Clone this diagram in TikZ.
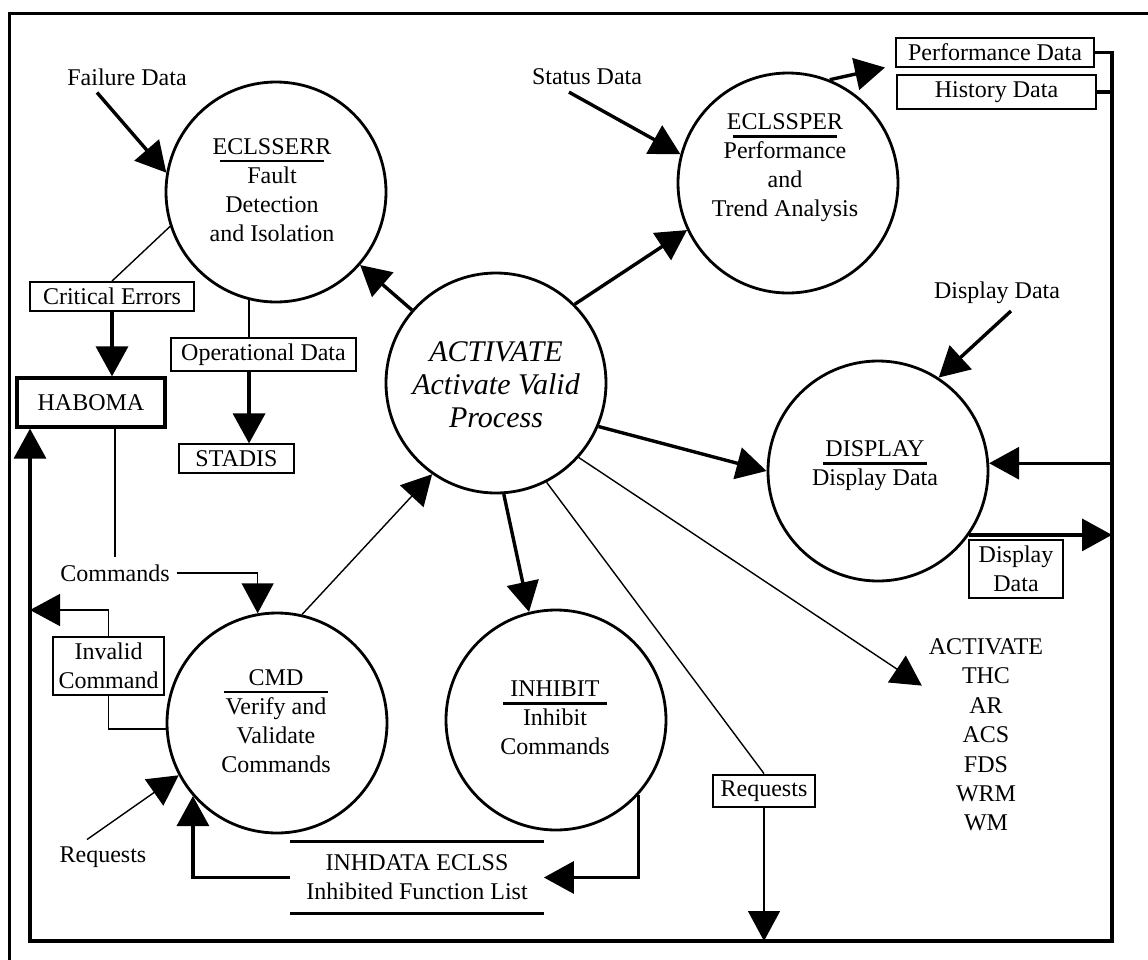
\documentclass[tikz,border=0pt]{standalone}
\usepackage{fontspec}
\setmainfont{Liberation Serif}
\usetikzlibrary{arrows.meta}

\newcommand{\ttl}[1]{\leavevmode\vtop{\hbox to 52pt{\hss#1\hss}\kern2.5pt\hrule height 1.4pt}}

\begin{document}
\begin{tikzpicture}[x=0.5pt,y=-0.5pt,
	every node/.style={font=\fontsize{12}{14.5}\selectfont, align=center},
	proc/.style={circle, draw, line width=1.4pt, minimum size=110pt, inner sep=0pt},
	box/.style={draw, line width=1pt, inner xsep=5pt, inner ysep=3pt},
	fat/.style={line width=1.7pt},
	lean/.style={line width=0.7pt},
	big/.style={-{Triangle[length=15pt,width=16pt]}}]
			\useasboundingbox (0,0) rectangle (1148,960);
			\draw[line width=1.5pt] (9,960) -- (9,13) -- (1148,13);

			\node[proc] (err) at (276,192) {};
			\node[proc] (per) at (788,183) {};
			\node[proc] (act) at (496,383) {};
			\node[proc] (disp) at (878,471) {};
			\node[proc] (cmd) at (277,723) {};
			\node[proc] (inh) at (556,720) {};

			\node at (272,190) {\ttl{ECLSSERR}\\Fault\\Detection\\and Isolation};
			\node at (785,168) {\ttl{ECLSSPER}\\Performance\\and\\Trend Analysis};
			\node[font=\fontsize{15}{16.5}\selectfont\itshape] at (496,385) {ACTIVATE\\Activate Valid\\Process};
			\node at (875,466) {\ttl{DISPLAY}\\Display Data};
			\node at (276,721) {\ttl{CMD}\\Verify and\\Validate\\Commands};
			\node at (555,718) {\ttl{INHIBIT}\\Inhibit\\Commands};

			\node (fail) at (127,77) {Failure Data};
			\node (stat) at (587,77) {Status Data};
			\node (dd) at (997,293) {Display Data};
			\node (cmds) at (115,573) {Commands};
			\node (req) at (103,857) {Requests};
			\node[font=\fontsize{12}{14.7}\selectfont] (list) at (986,735) {ACTIVATE\\THC\\AR\\ACS\\FDS\\WRM\\WM};

			\node[box, inner xsep=6.5pt] (crit) at (112,296.5) {Critical Errors};
			\node[box, line width=1.6pt, minimum width=74pt, minimum height=24.5pt] (hab) at (91,402.5) {HABOMA};
			\node[box] (opd) at (263.5,354.5) {Operational Data};
			\node[box, minimum width=57.5pt] (stadis) at (236.5,458.5) {STADIS};
			\node[box, minimum width=99pt] (perf) at (995,52.5) {Performance Data};
			\node[box, minimum width=99.5pt] (hist) at (996.5,92) {History Data};
			\node[box, minimum width=46pt] (ddb) at (1016,569) {Display\\Data};
			\node[box, inner xsep=3pt] (inv) at (108.5,666) {Invalid\\Command};
			\node[box, inner xsep=4pt] (reqb) at (764,791) {Requests};
			\node[minimum width=126.5pt, minimum height=35.5pt] (store) at (417,877.5) {INHDATA ECLSS\\Inhibited Function List};
			\draw[line width=1.2pt] (store.north west) -- (store.north east);
			\draw[line width=1.2pt] (store.south west) -- (store.south east);

			\coordinate (se) at (1112,941);
			\coordinate (sw) at (30,941);
			\coordinate (ia) at (30,610);

			\draw[fat,big] ([xshift=-15pt]fail.south) -- (err.170);
			\draw[fat,big] ([xshift=-9pt]stat.south) -- (per.165);
			\draw[fat,big] (act) -- (err);
			\draw[fat,big] (act.45) -- (per.205);
			\draw[fat,big] (per.68) -- ([shift={(-5pt,-7.5pt)}]perf.west);
			\draw[fat,big] ([xshift=7pt]dd.south) -- (disp.57);
			\draw[fat,big] (act.-23) -- (disp.180);
			\draw[fat,big] (disp.4 -| se) -- (disp.4);
			\draw[fat,big] (disp.-35) -- (disp.-35 -| se);
			\draw[fat,big] (perf.east) -| (se) -- (sw) -- (sw |- hab.south);
			\draw[fat] (hist.east) -- (hist.east -| se);

			\draw[lean] (err.198) -- (crit.north);
			\draw[fat,big] (crit.south) -- (crit.south |- hab.north);
			\draw[lean] (err.-104) -- (err.-104 |- opd.north);
			\draw[fat,big] (err.-104 |- opd.south) -- (err.-104 |- stadis.north);
			\draw[lean] (hab.south -| cmds.north) -- (cmds.north);
			\draw[lean,big] (cmds.east) -| (cmd.100);
			\draw[lean] (cmd.183) -| (inv.south);
			\draw[lean,big] (inv.north) |- (ia);
			\draw[lean,big] ([xshift=-8pt]req.north) -- (cmd.208);
			\draw[lean,big] (cmd.77) -- (act.235);

			\draw[fat,big] (act.-86) -- (inh.104);
			\draw[fat,big] (inh.-42) |- (store.east);
			\draw[fat,big] (store.west) -| (cmd.221);
			\draw[lean,big] (act.-42) -- ([yshift=-27pt]list.north west);
			\draw[lean] (act.-63) -- (reqb.north);
			\draw[lean,big] (reqb.south) -- (reqb.south |- sw);
		\end{tikzpicture}
\end{document}
